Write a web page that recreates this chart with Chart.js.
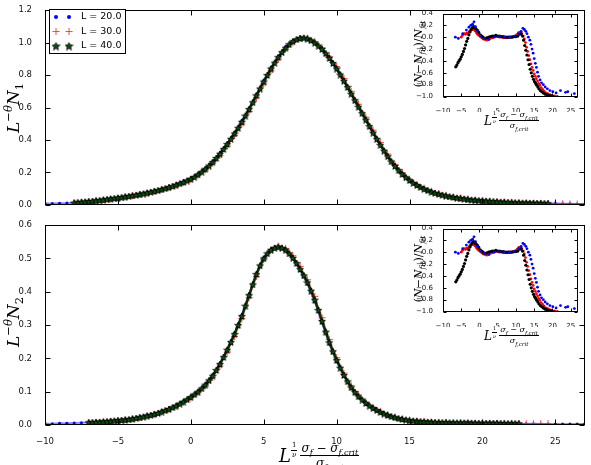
<!DOCTYPE html>
<html>
<head>
<meta charset="utf-8">
<title>Scaling collapse N1 / N2</title>
<script src="https://cdn.jsdelivr.net/npm/chart.js"></script>
<style>
  html, body { margin: 0; padding: 0; background: #fff; }
  #fig { position: relative; width: 591px; height: 465px; overflow: hidden; }
  #fig canvas { position: absolute; }
  .math { position: absolute; font-family: "DejaVu Serif", serif; font-style: italic; color: #000; white-space: nowrap; line-height: 1; }
  .up { font-style: normal; }
  .rot { transform: translate(-50%, -50%) rotate(-90deg); }
  .row { display: flex; align-items: center; }
  .frac { display: inline-flex; flex-direction: column; align-items: center; }
  .frac > .num { border-bottom: 1px solid #000; padding: 0 1px 1px; }
  .frac > .den { padding-top: 1px; }
  sub, sup { line-height: 0; font-size: 0.68em; }
</style>
</head>
<body>
<div id="fig">
  <canvas id="top" width="591" height="215" style="left:0;top:0"></canvas>
  <canvas id="bottom" width="591" height="250" style="left:0;top:215px"></canvas>
  <canvas id="insetTop" width="196" height="112" style="left:395px;top:0"></canvas>
  <canvas id="insetBottom" width="196" height="112" style="left:395px;top:215px"></canvas>

  <div class="math rot" style="left:13px;top:108px;font-size:17px">L<sup><span class="up">−</span>θ</sup>N<sub class="up">1</sub></div>
  <div class="math rot" style="left:13px;top:322px;font-size:17px">L<sup><span class="up">−</span>θ</sup>N<sub class="up">2</sub></div>

  <div class="math rot" style="left:418px;top:54px;font-size:11px"><span class="up">(</span>N<span class="up">−</span>N<sub>fit</sub><span class="up">)/</span>N<sub>fit</sub></div>
  <div class="math rot" style="left:418px;top:269px;font-size:11px"><span class="up">(</span>N<span class="up">−</span>N<sub>fit</sub><span class="up">)/</span>N<sub>fit</sub></div>

  <div class="math row" style="left:484px;top:111px">
    <span style="font-size:12px">L</span>
    <span class="frac" style="font-size:5px;align-self:flex-start"><span class="num up">1</span><span class="den">ν</span></span>
    <span class="frac" style="font-size:8px;margin-left:2px"><span class="num">σ<sub>f</sub> <span class="up">−</span> σ<sub>f,crit</sub></span><span class="den">σ<sub>f,crit</sub></span></span>
  </div>
  <div class="math row" style="left:484px;top:326px">
    <span style="font-size:12px">L</span>
    <span class="frac" style="font-size:5px;align-self:flex-start"><span class="num up">1</span><span class="den">ν</span></span>
    <span class="frac" style="font-size:8px;margin-left:2px"><span class="num">σ<sub>f</sub> <span class="up">−</span> σ<sub>f,crit</sub></span><span class="den">σ<sub>f,crit</sub></span></span>
  </div>

  <div class="math row" style="left:279px;top:442px">
    <span style="font-size:18px">L</span>
    <span class="frac" style="font-size:7px;align-self:flex-start"><span class="num up">1</span><span class="den">ν</span></span>
    <span class="frac" style="font-size:12px;margin-left:3px"><span class="num">σ<sub>f</sub> <span class="up">−</span> σ<sub>f,crit</sub></span><span class="den">σ<sub>f,crit</sub></span></span>
  </div>
</div>

<script>
// abscissa grid shared by the main-panel series
const xGrid = [
  -10, -9.5, -9, -8.5, -8, -7.5, -7, -6.5, -6, -5.5,
  -5, -4.5, -4, -3.5, -3, -2.5, -2, -1.5, -1, -0.5,
  0, 0.5, 1, 1.5, 2, 2.5, 3, 3.5, 4, 4.5,
  5, 5.5, 6, 6.5, 7, 7.5, 8, 8.5, 9, 9.5,
  10, 10.5, 11, 11.5, 12, 12.5, 13, 13.5, 14, 14.5,
  15, 15.5, 16, 16.5, 17, 17.5, 18, 18.5, 19, 19.5,
  20, 20.5, 21, 21.5, 22, 22.5, 23, 23.5, 24, 24.5,
  25, 25.5, 26, 26.5, 27
];
// in-between abscissae, the L = 40 runs are sampled more finely
const xGridMid = [
  -9.75, -9.25, -8.75, -8.25, -7.75, -7.25, -6.75, -6.25, -5.75, -5.25,
  -4.75, -4.25, -3.75, -3.25, -2.75, -2.25, -1.75, -1.25, -0.75, -0.25,
  0.25, 0.75, 1.25, 1.75, 2.25, 2.75, 3.25, 3.75, 4.25, 4.75,
  5.25, 5.75, 6.25, 6.75, 7.25, 7.75, 8.25, 8.75, 9.25, 9.75,
  10.25, 10.75, 11.25, 11.75, 12.25, 12.75, 13.25, 13.75, 14.25, 14.75,
  15.25, 15.75, 16.25, 16.75, 17.25, 17.75, 18.25, 18.75, 19.25, 19.75,
  20.25, 20.75, 21.25, 21.75, 22.25, 22.75, 23.25, 23.75, 24.25, 24.75,
  25.25, 25.75, 26.25, 26.75
];

// top panel: L^-theta N1
const n1L20 = [
  0.008, 0.009, 0.010, 0.011, 0.013, 0.017, 0.022, 0.027, 0.033, 0.039,
  0.046, 0.053, 0.060, 0.068, 0.077, 0.087, 0.098, 0.111, 0.126, 0.143,
  0.162, 0.190, 0.225, 0.268, 0.320, 0.380, 0.446, 0.518, 0.596, 0.680,
  0.765, 0.845, 0.915, 0.972, 1.010, 1.030, 1.025, 0.998, 0.955, 0.900,
  0.835, 0.760, 0.680, 0.600, 0.520, 0.442, 0.368, 0.300, 0.242, 0.194,
  0.155, 0.125, 0.101, 0.083, 0.069, 0.058, 0.049, 0.042, 0.036, 0.031,
  0.027, 0.023, 0.020, 0.018, 0.016, 0.014, 0.012, 0.011, 0.010, 0.009,
  0.008, 0.007, 0.007, 0.006, 0.006
];
const n1L30 = [
  null, null, null, null, 0.013, 0.017, 0.021, 0.026, 0.031, 0.036,
  0.042, 0.049, 0.056, 0.064, 0.073, 0.083, 0.094, 0.106, 0.121, 0.138,
  0.156, 0.182, 0.215, 0.256, 0.305, 0.363, 0.427, 0.498, 0.575, 0.660,
  0.745, 0.826, 0.898, 0.958, 1.000, 1.025, 1.027, 1.005, 0.968, 0.915,
  0.852, 0.779, 0.700, 0.620, 0.540, 0.460, 0.384, 0.313, 0.250, 0.199,
  0.158, 0.127, 0.103, 0.084, 0.070, 0.059, 0.050, 0.043, 0.037, 0.031,
  0.027, 0.024, 0.021, 0.018, 0.016, 0.014, 0.012, 0.011, 0.010, 0.009,
  0.008, 0.007, 0.007, 0.006, 0.006
];
const n1L40 = [
  null, null, null, null, 0.014, 0.018, 0.022, 0.027, 0.032, 0.038,
  0.044, 0.051, 0.058, 0.066, 0.075, 0.085, 0.096, 0.109, 0.124, 0.141,
  0.160, 0.188, 0.222, 0.264, 0.315, 0.375, 0.440, 0.512, 0.590, 0.675,
  0.760, 0.840, 0.910, 0.968, 1.008, 1.028, 1.025, 1.000, 0.960, 0.905,
  0.840, 0.765, 0.685, 0.605, 0.525, 0.445, 0.370, 0.300, 0.240, 0.190,
  0.152, 0.122, 0.099, 0.081, 0.068, 0.057, 0.048, 0.041, 0.035, 0.030,
  0.026, 0.023, 0.020, 0.018, 0.016, 0.014, 0.013, 0.012, 0.011, 0.010,
  null, null, null, null, null
];
const n1L40mid = [
  null, null, null, null, 0.016, 0.020, 0.024, 0.029, 0.035, 0.041,
  0.047, 0.054, 0.062, 0.070, 0.080, 0.090, 0.102, 0.116, 0.132, 0.150,
  0.173, 0.204, 0.242, 0.289, 0.344, 0.407, 0.475, 0.550, 0.632, 0.717,
  0.800, 0.876, 0.941, 0.990, 1.020, 1.030, 1.014, 0.981, 0.934, 0.874,
  0.803, 0.726, 0.645, 0.565, 0.485, 0.407, 0.334, 0.268, 0.214, 0.170,
  0.136, 0.110, 0.090, 0.074, 0.062, 0.052, 0.044, 0.038, 0.032, 0.028,
  0.025, 0.022, 0.019, 0.017, 0.015, 0.0135, 0.0125, 0.0115, 0.0105, null,
  null, null, null, null
];

// bottom panel: L^-theta N2
const n2L20 = [
  0.004, 0.004, 0.005, 0.005, 0.006, 0.007, 0.008, 0.009, 0.011, 0.012,
  0.014, 0.017, 0.020, 0.024, 0.029, 0.034, 0.041, 0.049, 0.059, 0.071,
  0.085, 0.102, 0.123, 0.150, 0.185, 0.228, 0.276, 0.330, 0.393, 0.455,
  0.502, 0.527, 0.534, 0.524, 0.499, 0.464, 0.423, 0.370, 0.306, 0.243,
  0.190, 0.146, 0.110, 0.084, 0.064, 0.050, 0.038, 0.029, 0.022, 0.017,
  0.014, 0.011, 0.010, 0.009, 0.008, 0.007, 0.007, 0.006, 0.006, 0.006,
  0.005, 0.005, 0.005, 0.005, 0.004, 0.004, 0.004, 0.004, 0.003, 0.003,
  0.003, 0.003, 0.003, 0.003, 0.003
];
const n2L30 = [
  null, null, null, null, null, null, 0.007, 0.008, 0.010, 0.011,
  0.013, 0.016, 0.019, 0.022, 0.027, 0.032, 0.039, 0.047, 0.056, 0.068,
  0.081, 0.097, 0.117, 0.143, 0.177, 0.219, 0.266, 0.319, 0.382, 0.446,
  0.496, 0.525, 0.537, 0.530, 0.508, 0.476, 0.436, 0.386, 0.322, 0.257,
  0.202, 0.156, 0.118, 0.090, 0.069, 0.053, 0.041, 0.031, 0.024, 0.019,
  0.015, 0.012, 0.010, 0.009, 0.008, 0.008, 0.007, 0.007, 0.006, 0.006,
  0.006, 0.005, 0.005, 0.005, 0.005, 0.004, 0.004, 0.004, 0.004, 0.004,
  null, null, null, null, null
];
const n2L40 = [
  null, null, null, null, null, null, 0.008, 0.009, 0.010, 0.012,
  0.014, 0.016, 0.019, 0.023, 0.028, 0.033, 0.040, 0.048, 0.058, 0.070,
  0.084, 0.100, 0.121, 0.148, 0.183, 0.226, 0.273, 0.327, 0.390, 0.453,
  0.500, 0.526, 0.535, 0.526, 0.502, 0.468, 0.428, 0.376, 0.312, 0.248,
  0.195, 0.150, 0.113, 0.086, 0.066, 0.051, 0.039, 0.030, 0.023, 0.018,
  0.014, 0.012, 0.010, 0.009, 0.008, 0.008, 0.007, 0.007, 0.007, 0.006,
  0.006, 0.006, 0.006, 0.005, 0.005, 0.005, null, null, null, null,
  null, null, null, null, null
];
const n2L40mid = [
  null, null, null, null, null, null, 0.0085, 0.0095, 0.011, 0.013,
  0.015, 0.017, 0.021, 0.025, 0.030, 0.036, 0.044, 0.053, 0.064, 0.077,
  0.092, 0.110, 0.134, 0.165, 0.204, 0.249, 0.300, 0.358, 0.422, 0.479,
  0.515, 0.532, 0.532, 0.515, 0.486, 0.449, 0.403, 0.345, 0.280, 0.221,
  0.172, 0.131, 0.099, 0.076, 0.058, 0.045, 0.034, 0.026, 0.020, 0.016,
  0.013, 0.011, 0.0095, 0.0085, 0.008, 0.0075, 0.007, 0.007, 0.0065, 0.006,
  0.006, 0.006, 0.0055, 0.005, 0.005, null, null, null, null, null,
  null, null, null, null
];

// inset: relative deviation from the fit, [x, (N - Nfit)/Nfit]
const residL20 = [
  [-6.6, 0.0], [-5.8, -0.02], [-4.6, 0.06], [-3.6, 0.12], [-2.9, 0.17], [-2.4, 0.2],
  [-1.9, 0.22], [-1.5, 0.26], [-1.1, 0.18], [-0.6, 0.1], [0.3, 0.02], [1.4, -0.02],
  [2.6, -0.04], [4.0, 0.0], [5.4, 0.01], [6.8, 0.0], [8.2, 0.0], [9.6, 0.02],
  [10.6, 0.06], [11.4, 0.1], [11.9, 0.15], [12.3, 0.13], [12.7, 0.1], [13.0, 0.06],
  [13.4, 0.0], [13.8, -0.05], [14.1, -0.12], [14.4, -0.2], [14.7, -0.27], [15.0, -0.36],
  [15.3, -0.44], [15.6, -0.51], [15.9, -0.59], [16.2, -0.66], [16.6, -0.72], [17.0, -0.77],
  [17.5, -0.8], [18.0, -0.84], [18.6, -0.87], [19.3, -0.9], [20.1, -0.92], [21.0, -0.94],
  [22.2, -0.9], [23.6, -0.93], [24.2, -0.92], [26.0, -0.95]
];
const residL30 = [
  [-5.0, 0.0], [-4.7, 0.03], [-4.4, 0.05], [-4.1, 0.06], [-3.8, 0.05], [-3.5, 0.07],
  [-3.2, 0.06], [-2.9, 0.09], [-2.6, 0.1], [-2.3, 0.12], [-2.0, 0.13], [-1.7, 0.14],
  [-1.4, 0.12], [-1.1, 0.1], [-0.8, 0.07], [-0.5, 0.05], [-0.2, 0.03], [0.2, 0.01],
  [0.6, -0.01], [1.0, -0.03], [1.5, -0.04], [2.0, -0.05], [2.5, -0.03], [3.0, -0.02],
  [3.5, -0.01], [4.0, 0.0], [4.5, 0.01], [5.0, 0.01], [5.5, 0.0], [6.0, 0.0],
  [6.5, -0.01], [7.0, 0.0], [7.5, -0.01], [8.0, 0.0], [8.5, 0.0], [9.0, 0.01],
  [9.5, 0.01], [10.0, 0.03], [10.4, 0.05], [10.8, 0.08], [11.2, 0.07], [11.6, 0.06],
  [12.0, 0.02], [12.3, -0.03], [12.6, -0.09], [12.9, -0.17], [13.2, -0.24], [13.5, -0.31],
  [13.8, -0.38], [14.1, -0.45], [14.4, -0.51], [14.7, -0.56], [15.0, -0.62], [15.3, -0.66],
  [15.6, -0.7], [15.9, -0.74], [16.2, -0.78], [16.5, -0.81], [16.9, -0.85], [17.3, -0.88],
  [17.7, -0.91], [18.2, -0.94], [18.7, -0.95], [19.3, -0.97], [19.9, -0.98], [20.6, -0.99],
  [21.3, -1.0]
];
const residL40 = [
  [-6.5, -0.5], [-6.2, -0.47], [-5.9, -0.43], [-5.6, -0.4], [-5.3, -0.37], [-5.0, -0.33],
  [-4.7, -0.29], [-4.4, -0.24], [-4.1, -0.19], [-3.8, -0.13], [-3.5, -0.07], [-3.2, -0.02],
  [-2.9, 0.04], [-2.6, 0.09], [-2.3, 0.13], [-2.0, 0.16], [-1.7, 0.18], [-1.4, 0.17],
  [-1.1, 0.15], [-0.8, 0.13], [-0.5, 0.11], [-0.2, 0.08], [0.2, 0.04], [0.6, 0.02],
  [1.0, 0.0], [1.5, -0.02], [2.0, -0.01], [2.5, 0.0], [3.0, 0.01], [3.5, 0.02],
  [4.0, 0.02], [4.5, 0.03], [5.0, 0.02], [5.5, 0.02], [6.0, 0.01], [6.5, 0.01],
  [7.0, 0.0], [7.5, 0.0], [8.0, 0.0], [8.5, 0.0], [9.0, 0.0], [9.5, 0.01],
  [10.0, 0.01], [10.5, 0.02], [11.0, 0.05], [11.4, 0.06], [11.8, 0.02], [12.1, -0.05],
  [12.4, -0.14], [12.7, -0.22], [13.0, -0.3], [13.3, -0.38], [13.6, -0.46], [13.9, -0.54],
  [14.2, -0.6], [14.5, -0.66], [14.8, -0.71], [15.1, -0.75], [15.4, -0.78], [15.7, -0.81],
  [16.0, -0.84], [16.3, -0.87], [16.7, -0.9], [17.1, -0.92], [17.5, -0.94], [18.0, -0.96],
  [18.5, -0.97], [19.0, -0.98], [19.6, -0.99], [20.2, -1.0]
];

// tick labels
const xTicks = [-10, -5, 0, 5, 10, 15, 20, 25];
const yTicksN1 = [0, 0.2, 0.4, 0.6, 0.8, 1.0, 1.2];
const yTicksN2 = [0, 0.1, 0.2, 0.3, 0.4, 0.5, 0.6];
const yTicksRes = [-1.0, -0.8, -0.6, -0.4, -0.2, 0, 0.2, 0.4];
const legendLabels = ['L = 20.0', 'L = 30.0', 'L = 40.0'];

Chart.defaults.font.family = '"DejaVu Sans", sans-serif';

const BLUE = '#0000ff';
const RED = 'rgba(255, 40, 40, 0.85)';

// filled five point star used as the L = 40 marker
function makeStar(size) {
  const c = document.createElement('canvas');
  c.width = c.height = size;
  const g = c.getContext('2d');
  const R = size / 2 - 0.5, r = R * 0.45;
  g.beginPath();
  for (let i = 0; i < 10; i++) {
    const rad = i % 2 ? r : R;
    const a = -Math.PI / 2 + i * Math.PI / 5;
    g.lineTo(size / 2 + rad * Math.cos(a), size / 2 + 0.5 + rad * Math.sin(a));
  }
  g.closePath();
  g.fillStyle = '#0b550b';
  g.fill();
  g.strokeStyle = '#000';
  g.lineWidth = 0.9;
  g.stroke();
  return c;
}
const star = makeStar(8);
const legendStar = makeStar(9);

function series(xs, ys) {
  return xs.map((x, i) => ({ x: x, y: ys[i] })).filter(p => p.y !== null);
}
function merged(xsA, ysA, xsB, ysB) {
  return series(xsA, ysA).concat(series(xsB, ysB)).sort((a, b) => a.x - b.x);
}
function pairs(arr) {
  return arr.map(p => ({ x: p[0], y: p[1] }));
}
function fmt(v, d) {
  return (v < 0 ? '\u2212' : '') + Math.abs(v).toFixed(d);
}

// frame + inward ticks on all four sides, like the classic matplotlib axes
const frameTicks = {
  id: 'frameTicks',
  beforeDraw(chart, args, opts) {
    if (!opts.fill) return;
    const a = chart.chartArea;
    chart.ctx.save();
    chart.ctx.fillStyle = '#fff';
    chart.ctx.fillRect(a.left, a.top, a.right - a.left, a.bottom - a.top);
    chart.ctx.restore();
  },
  afterDraw(chart, args, opts) {
    const ctx = chart.ctx, a = chart.chartArea;
    const x = chart.scales.x, y = chart.scales.y;
    const len = opts.len;
    const L = Math.round(a.left) + 0.5, R = Math.round(a.right) - 0.5;
    const T = Math.round(a.top) + 0.5, B = Math.round(a.bottom) - 0.5;
    ctx.save();
    ctx.strokeStyle = '#000';
    ctx.lineWidth = 1;
    ctx.beginPath();
    x.ticks.forEach(t => {
      const px = Math.round(x.getPixelForValue(t.value)) + 0.5;
      ctx.moveTo(px, B); ctx.lineTo(px, B - len);
      ctx.moveTo(px, T); ctx.lineTo(px, T + len);
    });
    y.ticks.forEach(t => {
      const py = Math.round(y.getPixelForValue(t.value)) + 0.5;
      ctx.moveTo(L, py); ctx.lineTo(L + len, py);
      ctx.moveTo(R, py); ctx.lineTo(R - len, py);
    });
    ctx.stroke();
    ctx.strokeRect(L, T, R - L, B - T);
    ctx.restore();
  }
};

// legend with two markers per entry
const legendBox = {
  id: 'legendBox',
  afterDraw(chart, args, opts) {
    if (!opts.show) return;
    const ctx = chart.ctx;
    ctx.save();
    ctx.fillStyle = '#fff';
    ctx.fillRect(49.5, 9.5, 76, 44);
    ctx.strokeStyle = '#000';
    ctx.lineWidth = 1;
    ctx.strokeRect(49.5, 9.5, 76, 44);
    const rows = [17, 31.5, 46];
    [56, 69].forEach(mx => {
      ctx.fillStyle = BLUE;
      ctx.beginPath();
      ctx.arc(mx, rows[0], 2, 0, Math.PI * 2);
      ctx.fill();
      ctx.strokeStyle = RED;
      ctx.beginPath();
      ctx.moveTo(mx - 3.5, rows[1]); ctx.lineTo(mx + 3.5, rows[1]);
      ctx.moveTo(mx, rows[1] - 3.5); ctx.lineTo(mx, rows[1] + 3.5);
      ctx.stroke();
      ctx.drawImage(legendStar, mx - 4.5, rows[2] - 4.5);
    });
    ctx.fillStyle = '#000';
    ctx.font = '9.5px "DejaVu Sans"';
    ctx.textBaseline = 'middle';
    legendLabels.forEach((t, i) => ctx.fillText(t, 81, rows[i]));
    ctx.restore();
  }
};

function axis(min, max, ticks, o) {
  return {
    type: 'linear',
    min: min,
    max: max,
    afterBuildTicks: s => { s.ticks = ticks.map(v => ({ value: v })); },
    afterFit: s => {
      if (o.width !== undefined) s.width = o.width;
      if (o.height !== undefined) s.height = o.height;
    },
    grid: { display: false },
    border: { display: false },
    ticks: {
      display: o.labels,
      autoSkip: false,
      maxRotation: 0,
      minRotation: 0,
      padding: o.pad,
      color: '#111',
      font: { size: o.size },
      callback: v => fmt(v, o.digits)
    }
  };
}

function mainDatasets(ys20, ys30, ys40, ys40mid) {
  return [
    {
      label: legendLabels[2], data: merged(xGrid, ys40, xGridMid, ys40mid), order: 1,
      showLine: true, borderColor: '#0a300a', borderWidth: 2.5,
      pointStyle: star, pointRadius: 4
    },
    {
      label: legendLabels[1], data: series(xGrid, ys30), order: 2,
      showLine: true, borderColor: 'rgba(255, 0, 0, 0.45)', borderWidth: 1.5,
      pointStyle: 'cross', pointRadius: 3.5, pointBorderColor: RED, pointBorderWidth: 1
    },
    {
      label: legendLabels[0], data: series(xGrid, ys20), order: 3,
      showLine: true, borderColor: 'rgba(60, 60, 255, 0.6)', borderWidth: 2,
      pointStyle: 'circle', pointRadius: 1.5, pointBackgroundColor: BLUE, pointBorderWidth: 0
    }
  ];
}

function insetDatasets() {
  const base = { showLine: false, pointBorderWidth: 0 };
  return [
    Object.assign({ data: pairs(residL20), order: 1, pointRadius: 1.4, pointBackgroundColor: BLUE }, base),
    Object.assign({ data: pairs(residL40), order: 2, pointRadius: 1.6, pointBackgroundColor: '#000' }, base),
    Object.assign({ data: pairs(residL30), order: 3, pointRadius: 1.4, pointBackgroundColor: '#ff0000' }, base)
  ];
}

function makeChart(id, datasets, scales, padding, pluginOpts) {
  return new Chart(document.getElementById(id), {
    type: 'scatter',
    data: { datasets: datasets },
    plugins: [frameTicks, legendBox],
    options: {
      responsive: false,
      animation: false,
      devicePixelRatio: 1,
      layout: { padding: padding },
      events: [],
      plugins: {
        legend: { display: false },
        tooltip: { enabled: false },
        frameTicks: pluginOpts.frame,
        legendBox: { show: pluginOpts.legend }
      },
      scales: scales
    }
  });
}

makeChart('top', mainDatasets(n1L20, n1L30, n1L40, n1L40mid), {
  x: axis(-10, 27, xTicks, { labels: false, height: 0, pad: 0, size: 8.5, digits: 0 }),
  y: axis(0, 1.2, yTicksN1, { labels: true, width: 45, pad: 5, size: 8.5, digits: 1 })
}, { left: 0, right: 2, top: 5, bottom: 5 }, { frame: { len: 5, fill: false }, legend: true });

makeChart('bottom', mainDatasets(n2L20, n2L30, n2L40, n2L40mid), {
  x: axis(-10, 27, xTicks, { labels: true, height: 40, pad: 4, size: 8.5, digits: 0 }),
  y: axis(0, 0.6, yTicksN2, { labels: true, width: 45, pad: 5, size: 8.5, digits: 1 })
}, { left: 0, right: 2, top: 5, bottom: 0 }, { frame: { len: 5, fill: false }, legend: false });

['insetTop', 'insetBottom'].forEach(id => {
  makeChart(id, insetDatasets(), {
    x: axis(-10, 27, xTicks, { labels: true, height: 15.5, pad: 2, size: 7, digits: 0 }),
    y: axis(-1.0, 0.4, yTicksRes, { labels: true, width: 48, pad: 2, size: 7, digits: 1 })
  }, { left: 0, right: 13, top: 13.5, bottom: 0 }, { frame: { len: 3, fill: true }, legend: false });
});
</script>
</body>
</html>
